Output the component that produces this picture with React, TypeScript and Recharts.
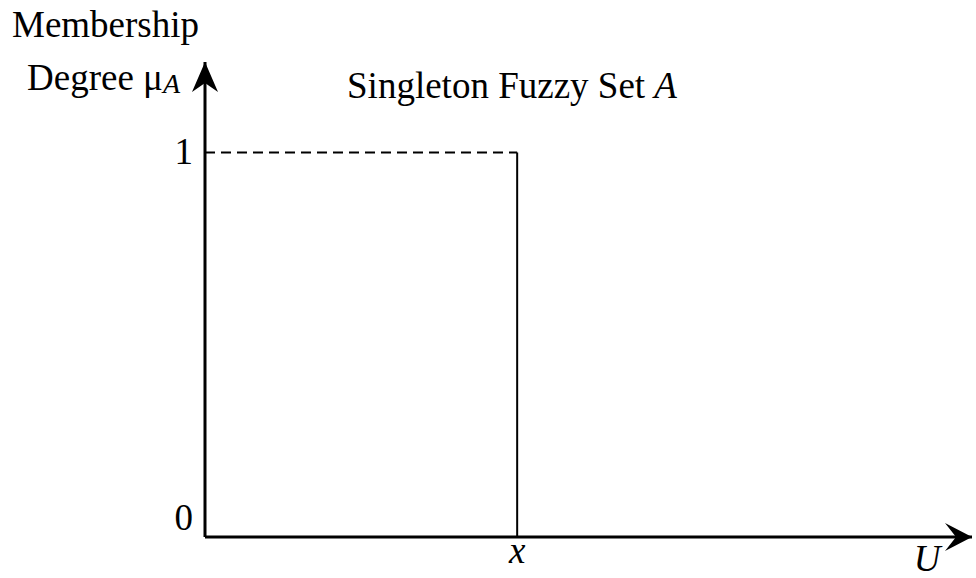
import {
  LineChart,
  Line,
  XAxis,
  YAxis,
  ReferenceDot,
  Customized,
} from "recharts";

// values
const U_MAX = 10;
const MU_MAX = 1.235;
const SINGLETON_U = 4.07;
const MU_TICKS = [0, 1];
const U_TICKS = [SINGLETON_U];
const U_TICK_LABELS = ["x"];

const DASHED_U = [0, SINGLETON_U];
const DASHED_MU = [1, 1];
const SPIKE_U = [SINGLETON_U, SINGLETON_U];
const SPIKE_MU = [1, 0];

const dashedData = DASHED_U.map((u, i) => ({ u, mu: DASHED_MU[i] }));
const spikeData = SPIKE_U.map((u, i) => ({ u, mu: SPIKE_MU[i] }));

const FONT = '"Liberation Serif", "Times New Roman", serif';
const FS = 37;

function YTick(props: any) {
  const { x, y, payload } = props;
  const dy = payload.value === 0 ? -7 : 12;
  return (
    <text
      x={x}
      y={y + dy}
      textAnchor="end"
      fontFamily={FONT}
      fontSize={FS}
      fill="#000"
    >
      {payload.value}
    </text>
  );
}

function XTick(props: any) {
  const { x, y, index } = props;
  return (
    <text
      x={x}
      y={y + 26}
      textAnchor="middle"
      fontFamily={FONT}
      fontSize={FS}
      fontStyle="italic"
      fill="#000"
    >
      {U_TICK_LABELS[index]}
    </text>
  );
}

function UpArrow(props: any) {
  const { cx, cy } = props;
  return (
    <path
      d={`M${cx},${cy} L${cx + 13},${cy + 30} L${cx},${cy + 21} L${cx - 13},${cy + 30} Z`}
      fill="#000"
    />
  );
}

function RightArrow(props: any) {
  const { cx, cy } = props;
  return (
    <path
      d={`M${cx},${cy} L${cx - 27},${cy + 14} L${cx - 16},${cy} L${cx - 27},${cy - 14} Z`}
      fill="#000"
    />
  );
}

function Texts() {
  return (
    <g fontFamily={FONT} fill="#000">
      <text x={12} y={37} fontSize={FS}>
        Membership
      </text>
      <text x={27} y={90} fontSize={FS}>
        Degree μ
        <tspan fontStyle="italic" fontSize={28} dy={3}>
          A
        </tspan>
      </text>
      <text x={512} y={98} fontSize={FS} textAnchor="middle">
        Singleton Fuzzy Set <tspan fontStyle="italic">A</tspan>
      </text>
      <text x={927} y={571} fontSize={FS} fontStyle="italic" textAnchor="middle">
        U
      </text>
    </g>
  );
}

export default function App() {
  return (
    <div style={{ position: "absolute", left: 0, top: 0, background: "#fff" }}>
      <LineChart
        width={976}
        height={578}
        margin={{ top: 62, right: 4, left: 145, bottom: 11 }}
      >
        <XAxis
          dataKey="u"
          type="number"
          domain={[0, U_MAX]}
          ticks={U_TICKS}
          tick={<XTick />}
          tickLine={false}
          tickSize={0}
          tickMargin={0}
          height={30}
          axisLine={{ stroke: "#000", strokeWidth: 3 }}
          allowDataOverflow
        />
        <YAxis
          type="number"
          domain={[0, MU_MAX]}
          ticks={MU_TICKS}
          tick={<YTick />}
          tickLine={false}
          tickSize={0}
          tickMargin={12}
          width={60}
          axisLine={{ stroke: "#000", strokeWidth: 3 }}
          allowDataOverflow
        />
        <Line
          data={dashedData}
          dataKey="mu"
          stroke="#000"
          strokeWidth={2}
          strokeDasharray="10 6"
          dot={false}
          isAnimationActive={false}
        />
        <Line
          data={spikeData}
          dataKey="mu"
          stroke="#000"
          strokeWidth={2}
          dot={false}
          isAnimationActive={false}
        />
        <ReferenceDot x={0} y={MU_MAX} r={0} ifOverflow="visible" shape={<UpArrow />} />
        <ReferenceDot x={U_MAX} y={0} r={0} ifOverflow="visible" shape={<RightArrow />} />
        <Customized component={Texts} />
      </LineChart>
    </div>
  );
}
